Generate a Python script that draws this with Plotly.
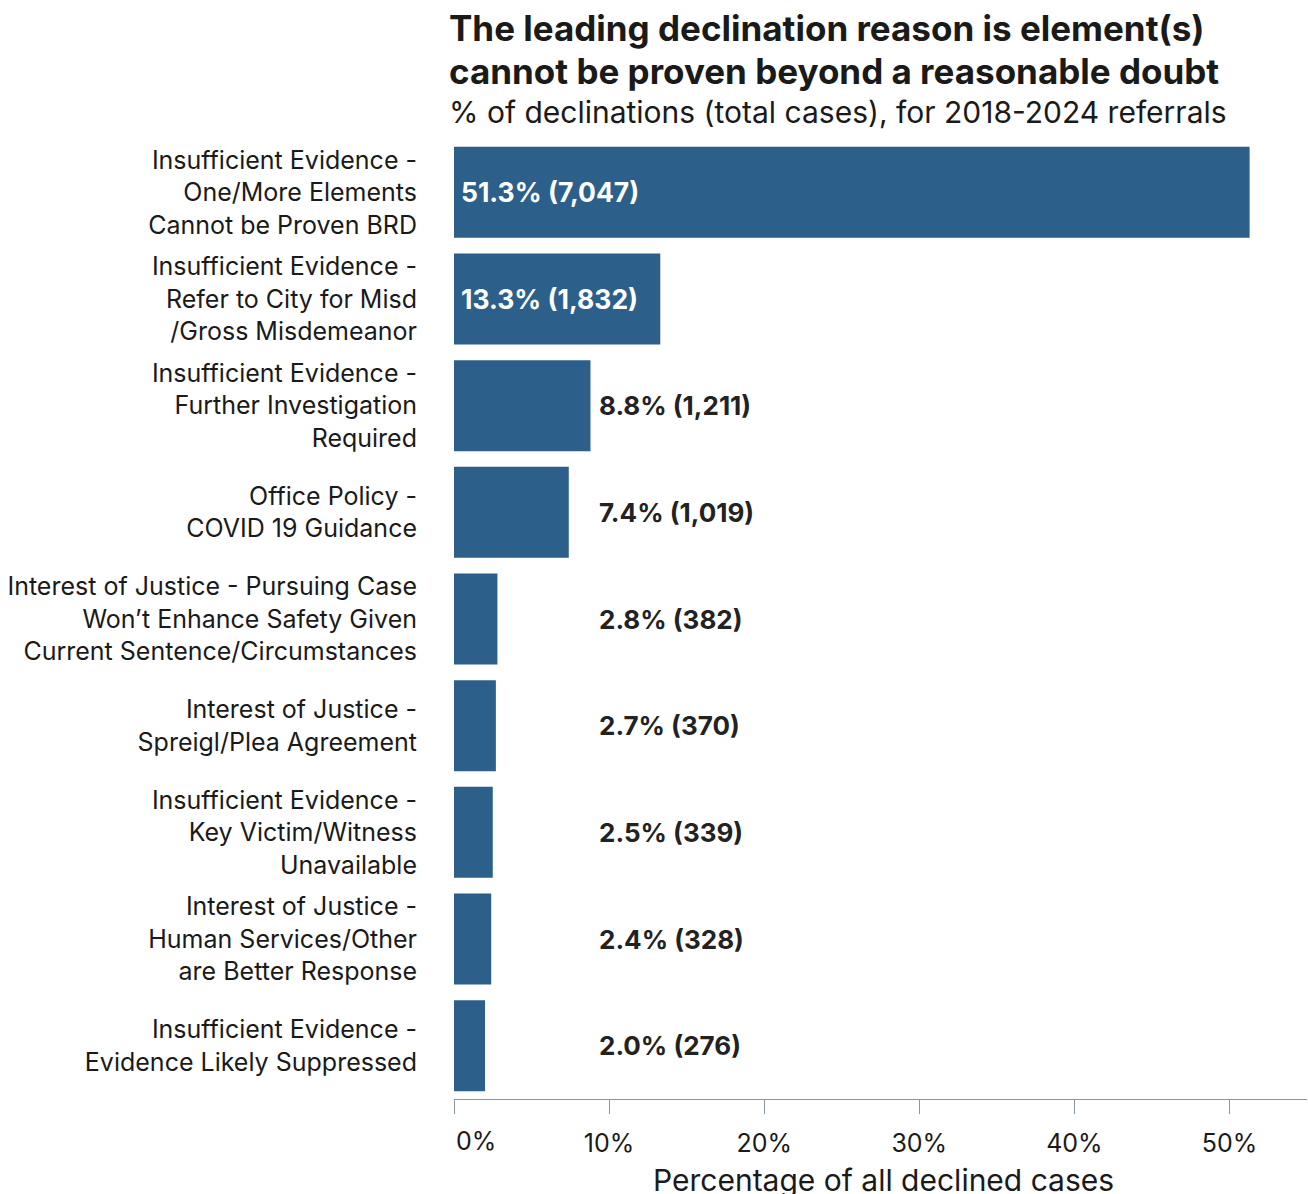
import plotly.graph_objects as go

categories = [
    "Insufficient Evidence -<br>One/More Elements<br>Cannot be Proven BRD",
    "Insufficient Evidence -<br>Refer to City for Misd<br>/Gross Misdemeanor",
    "Insufficient Evidence -<br>Further Investigation<br>Required",
    "Office Policy -<br>COVID 19 Guidance",
    "Interest of Justice - Pursuing Case<br>Won’t Enhance Safety Given<br>Current Sentence/Circumstances",
    "Interest of Justice -<br>Spreigl/Plea Agreement",
    "Insufficient Evidence -<br>Key Victim/Witness<br>Unavailable",
    "Interest of Justice -<br>Human Services/Other<br>are Better Response",
    "Insufficient Evidence -<br>Evidence Likely Suppressed",
]
percents = [51.3, 13.3, 8.8, 7.4, 2.8, 2.7, 2.5, 2.4, 2.0]
counts = [7047, 1832, 1211, 1019, 382, 370, 339, 328, 276]
tick_vals = [0, 10, 20, 30, 40, 50]
tick_text = ["0%", "10%", "20%", "30%", "40%", "50%"]

FONT = "Inter, Noto Sans, sans-serif"
BAR = "#2c5f8a"
AXIS = "#8a95a8"
TXT = "#1a1a1a"

fig = go.Figure()
fig.add_trace(go.Bar(
    y=categories, x=percents, orientation="h",
    marker=dict(color=BAR, line=dict(width=0)),
    width=0.853, hoverinfo="skip",
))

inside_threshold = 10
min_label_x = percents[2]
for cat, p, c in zip(categories, percents, counts):
    txt = f"{p:.1f}% ({c:,})"
    if p > inside_threshold:
        fig.add_annotation(x=0, y=cat, xref="x", yref="y", text=f"<b>{txt}</b>",
                           showarrow=False, xanchor="left", xshift=5,
                           font=dict(family=FONT, size=26.5, color="white"))
    else:
        fig.add_annotation(x=max(p, min_label_x), y=cat, xref="x", yref="y", text=f"<b>{txt}</b>",
                           showarrow=False, xanchor="left", xshift=7,
                           font=dict(family=FONT, size=26, color="#222222"))

# title lines
fig.add_annotation(x=-0.008, y=1.0, xref="paper", yref="paper", yanchor="middle",
                   xanchor="left", yshift=111, showarrow=False,
                   text="<b>The leading declination reason is element(s)</b>",
                   font=dict(family=FONT, size=35, color=TXT))
fig.add_annotation(x=-0.008, y=1.0, xref="paper", yref="paper", yanchor="middle",
                   xanchor="left", yshift=68, showarrow=False,
                   text="<b>cannot be proven beyond a reasonable doubt</b>",
                   font=dict(family=FONT, size=35, color=TXT))
fig.add_annotation(x=-0.008, y=1.0, xref="paper", yref="paper", yanchor="middle",
                   xanchor="left", yshift=27, showarrow=False,
                   text="% of declinations (total cases), for 2018-2024 referrals",
                   font=dict(family=FONT, size=30, color=TXT))
# x axis title
fig.add_annotation(x=0.503, y=0, xref="paper", yref="paper", yanchor="middle",
                   xanchor="center", yshift=-81, showarrow=False,
                   text="Percentage of all declined cases",
                   font=dict(family=FONT, size=30, color=TXT))
# first tick label (shifted right like the reference)
fig.add_annotation(x=tick_vals[0], y=0, xref="x", yref="paper", yanchor="middle",
                   xanchor="left", yshift=-42, xshift=0, showarrow=False,
                   text=tick_text[0],
                   font=dict(family=FONT, size=25, color=TXT))

fig.update_layout(
    width=1308, height=1194,
    margin=dict(l=454, r=1, t=139, b=95),
    plot_bgcolor="white", paper_bgcolor="white",
    showlegend=False, bargap=0.15,
    font=dict(family=FONT, size=25, color=TXT),
    xaxis=dict(range=[0, 55], tickvals=tick_vals, ticktext=[""] + tick_text[1:],
               showgrid=False, zeroline=False, showline=True, linecolor=AXIS, linewidth=1,
               ticks="outside", ticklen=14, tickcolor=AXIS, tickwidth=1,
               ticklabelstandoff=8, tickfont=dict(family=FONT, size=25, color=TXT),
               fixedrange=True),
    yaxis=dict(categoryorder="array", categoryarray=categories, autorange="reversed",
               showgrid=False, zeroline=False, showline=False, ticks="",
               ticklabelstandoff=36, tickfont=dict(family=FONT, size=25, color=TXT),
               fixedrange=True),
)

fig.write_html("out.html", config={"displayModeBar": False})
